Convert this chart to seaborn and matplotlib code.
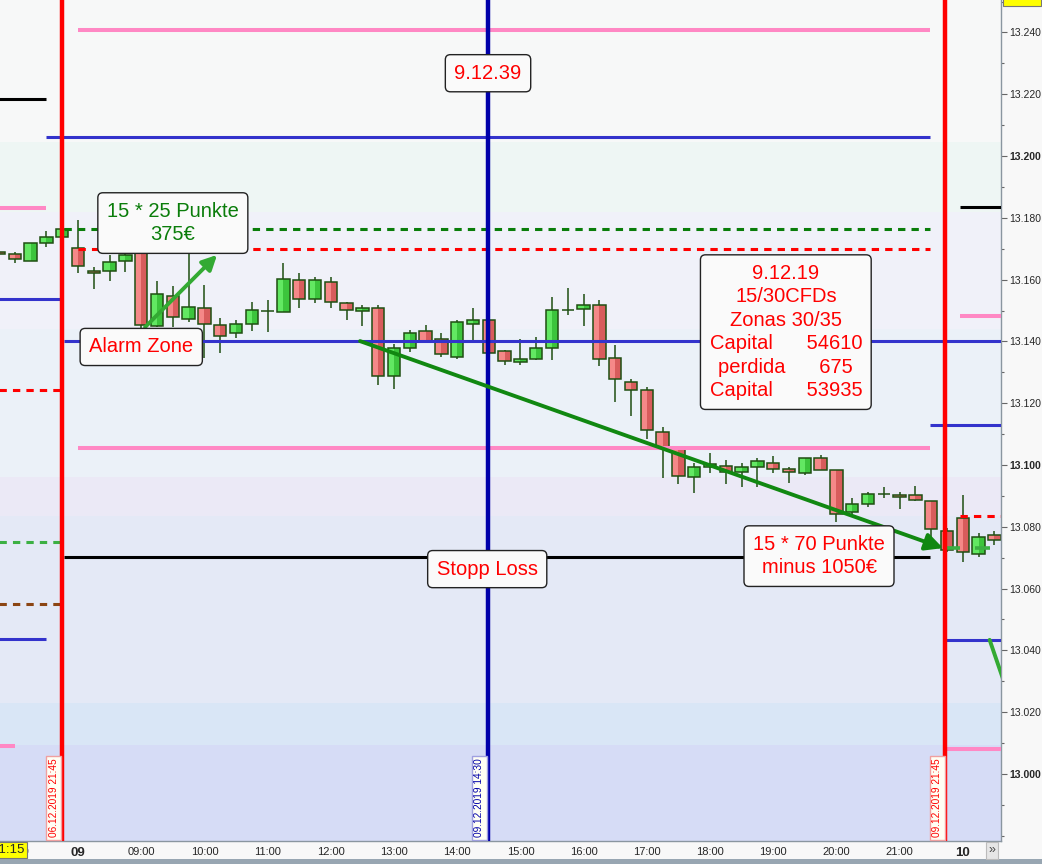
import numpy as np
import pandas as pd
import matplotlib
matplotlib.use("Agg")
import matplotlib.pyplot as plt
from matplotlib.patches import Rectangle
import seaborn as sns

# bar index: 0 = 09.12.2019 08:00, one bar = 15 minutes (index axis, night gap removed)
bar_idx = list(range(-5, 59))
opens = [13168.9, 13168.3, 13166.0, 13171.8, 13173.8,
         13170.2, 13162.8, 13162.8, 13166.0, 13169.9, 13145.0, 13154.7, 13147.2, 13150.8, 13145.3,
         13142.7, 13145.6, 13149.8, 13149.5, 13159.9, 13153.7, 13159.2, 13152.4, 13149.8, 13150.8,
         13128.8, 13137.9, 13143.4, 13140.8, 13134.9, 13145.6, 13146.9, 13136.9, 13133.3, 13134.3,
         13137.9, 13150.2, 13150.5, 13151.8, 13134.6, 13126.9, 13124.3, 13110.7, 13105.8, 13096.1,
         13099.4, 13099.7, 13097.7, 13099.4, 13100.6, 13098.7, 13097.4, 13102.3, 13098.4, 13084.8,
         13087.4, 13090.6, 13090.3, 13090.3, 13088.3, 13078.6, 13082.8, 13071.2, 13077.3]
highs = [13169.3, 13168.9, 13171.8, 13175.7, 13176.4,
         13179.3, 13164.1, 13168.0, 13168.6, 13172.8, 13159.5, 13157.9, 13169.6, 13158.2, 13147.6,
         13146.9, 13152.7, 13153.4, 13165.4, 13162.1, 13160.8, 13160.8, 13152.7, 13151.8, 13151.8,
         13139.2, 13143.7, 13145.3, 13142.7, 13146.9, 13150.8, 13147.2, 13137.2, 13140.8, 13141.4,
         13154.4, 13157.3, 13155.3, 13153.4, 13138.8, 13127.8, 13125.2, 13112.3, 13106.1, 13100.6,
         13103.9, 13101.6, 13100.6, 13102.3, 13102.9, 13099.4, 13102.3, 13103.2, 13098.4, 13089.3,
         13091.3, 13092.9, 13091.3, 13093.2, 13088.3, 13079.5, 13090.3, 13078.0, 13078.6]
lows = [13168.0, 13165.4, 13166.0, 13170.5, 13173.8,
        13162.1, 13157.0, 13159.5, 13162.4, 13143.7, 13144.6, 13144.6, 13146.3, 13134.6, 13136.2,
        13141.1, 13143.4, 13143.0, 13149.5, 13150.8, 13152.4, 13150.8, 13146.9, 13145.0, 13125.9,
        13124.6, 13136.6, 13139.5, 13134.9, 13134.3, 13139.8, 13135.9, 13132.4, 13132.4, 13134.0,
        13134.0, 13148.5, 13145.0, 13132.0, 13120.4, 13115.9, 13108.4, 13095.8, 13093.8, 13090.9,
        13097.4, 13093.8, 13092.9, 13092.9, 13097.4, 13094.2, 13096.8, 13098.4, 13081.6, 13083.8,
        13086.4, 13089.3, 13085.8, 13088.3, 13076.7, 13072.0, 13068.6, 13070.2, 13074.1]
closes = [13168.3, 13166.7, 13171.8, 13173.8, 13176.4,
          13164.4, 13162.1, 13165.7, 13168.0, 13145.3, 13155.3, 13147.9, 13151.1, 13145.6, 13141.7,
          13145.6, 13150.2, 13149.9, 13160.2, 13153.7, 13159.9, 13152.7, 13150.2, 13150.8, 13128.8,
          13137.9, 13142.7, 13139.8, 13135.9, 13146.3, 13146.9, 13136.2, 13133.7, 13134.3, 13137.9,
          13150.2, 13150.1, 13151.8, 13134.3, 13127.8, 13124.3, 13111.3, 13105.5, 13096.4, 13099.4,
          13100.3, 13097.7, 13099.4, 13101.3, 13098.7, 13097.7, 13102.3, 13098.4, 13084.1, 13087.4,
          13090.6, 13090.5, 13089.6, 13088.7, 13079.3, 13072.5, 13071.8, 13076.7, 13075.7]

# x ticks
tick_pos = [-4, 0, 4, 8, 12, 16, 20, 24, 28, 32, 36, 40, 44, 48, 52, 56]
tick_lab = ["21:00", "09", "09:00", "10:00", "11:00", "12:00", "13:00", "14:00", "15:00",
            "16:00", "17:00", "18:00", "19:00", "20:00", "21:00", "10"]

# background zones (price from, price to, colour)
zone_lo = [13204.5, 13181.9, 13144.0, 13096.1, 13083.5, 13023.0, 13009.4, 12970.0]
zone_hi = [13260.0, 13204.5, 13181.9, 13144.0, 13096.1, 13083.5, 13023.0, 13009.4]
zone_col = ["#f7f8f8", "#eef6f4", "#f0f1f9", "#ebf1f8", "#ebe9f6", "#e4e9f6", "#d9e6f6", "#d6dcf6"]

# horizontal levels: price, from bar, to bar, colour, style
lvl_price = [13240.8, 13218.4, 13206.1, 13183.2, 13176.4, 13169.9, 13183.5, 13153.7, 13140.1,
             13124.3, 13148.2, 13112.9, 13105.5, 13083.5, 13075.1, 13070.2, 13055.0, 13043.7,
             13043.4, 13009.1, 13008.1]
lvl_x0 = [0.0, -5.0, -2.0, -5.0, -0.9, 0.0, 55.8, -5.0, -0.9, -5.0, 55.8, 53.9, 0.0, 55.8,
          -5.0, -0.9, -5.0, -5.0, 54.9, -5.0, 54.9]
lvl_x1 = [53.9, -2.0, 53.9, -2.0, 53.9, 53.9, 59.0, -1.1, 59.0, -1.1, 59.0, 59.0, 53.9, 59.0,
          -1.1, 53.9, -1.1, -2.0, 59.0, -4.0, 59.0]
lvl_col = ["#ff88c4", "black", "#3333cc", "#ff88c4", "#0a7d0a", "red", "black", "#3333cc",
           "#3333cc", "red", "#ff88c4", "#3333cc", "#ff88c4", "red", "#3cb043", "black",
           "#8b4513", "#3333cc", "#3333cc", "#ff88c4", "#ff88c4"]
lvl_dash = [0, 0, 0, 0, 1, 1, 0, 0, 0, 1, 0, 0, 0, 1, 1, 0, 1, 0, 0, 0, 0]

df = pd.DataFrame({"bar": bar_idx, "open": opens, "high": highs, "low": lows, "close": closes})
df["up"] = df["close"] >= df["open"]
df["lo"] = df[["open", "close"]].min(axis=1)
df["h"] = (df["close"] - df["open"]).abs().clip(lower=0.15)

sns.set_style("white")
plt.rcParams["font.family"] = ["Liberation Sans", "DejaVu Sans"]

fig = plt.figure(figsize=(10.42, 8.64), dpi=100, facecolor="#f8f8f8")
ax = fig.add_axes([0, 23 / 864, 1001 / 1042, 841 / 864])
ax.set_xlim(-4.94, 58.42)
ax.set_ylim(12978.3, 13250.5)

for lo, hi, c in zip(zone_lo, zone_hi, zone_col):
    ax.axhspan(lo, hi, color=c, lw=0, zorder=0)

# candles
edge = "#1f4f12"
w = 0.78
ax.vlines(df["bar"], df["low"], df["high"], color=edge, lw=1.1, zorder=2)
for up, light, dark in [(True, "#62e862", "#3cc43c"), (False, "#f58888", "#d85c5c")]:
    d = df[df["up"] == up]
    ax.bar(d["bar"] - w / 4, d["h"], width=w / 2, bottom=d["lo"], color=light, lw=0, zorder=2.1)
    ax.bar(d["bar"] + w / 4, d["h"], width=w / 2, bottom=d["lo"], color=dark, lw=0, zorder=2.1)
ax.bar(df["bar"], df["h"], width=w, bottom=df["lo"], facecolor="none", edgecolor=edge,
       lw=1.1, zorder=2.2)

# levels
for p, x0, x1, c, dsh in zip(lvl_price, lvl_x0, lvl_x1, lvl_col, lvl_dash):
    lw = 2.9 if c == "#ff88c4" else 2.2
    ls = (0, (2.4, 2.0)) if dsh else "-"
    ax.plot([x0, x1], [p, p], color=c, lw=lw, ls=ls, solid_capstyle="butt", zorder=3)

# short trailing marks
ax.plot([55.0, 55.8], [13073.1, 13073.1], color="#3cb043", lw=2.6, zorder=3, solid_capstyle="butt")
ax.plot([56.8, 57.7], [13073.1, 13073.1], color="#3cb043", lw=2.6, zorder=3, solid_capstyle="butt")

# vertical markers
ax.axvline(-1.0, color="red", lw=3.2, zorder=4)
ax.axvline(25.95, color="#0000aa", lw=3.2, zorder=4)
ax.axvline(54.9, color="red", lw=3.2, zorder=4)

# arrows
ax.annotate("", xy=(8.8, 13168.0), xytext=(4.24, 13144.6),
            arrowprops=dict(arrowstyle="-|>", color="#33aa33", lw=2.8, mutation_scale=22,
                            shrinkA=0, shrinkB=0), zorder=5)
ax.annotate("", xy=(54.75, 13073.1), xytext=(17.85, 13140.1),
            arrowprops=dict(arrowstyle="-|>", color="#118811", lw=2.8, mutation_scale=26,
                            shrinkA=0, shrinkB=0), zorder=5)
ax.plot([57.7, 59.0], [13043.4, 13024.0], color="#33aa33", lw=2.8, zorder=5)

# text boxes
box = dict(boxstyle="round,pad=0.45,rounding_size=0.25", facecolor="#fafafa", edgecolor="#222222", lw=1)
tk = dict(ha="center", va="center", fontsize=14.5, zorder=7, bbox=box, linespacing=1.3)
ax.text(25.95, 13226.8, "9.12.39", color="red", **tk)
ax.text(6.0, 13178.3, "15 * 25 Punkte\n375€", color="#0a7d0a", **tk)
ax.text(4.0, 13138.2, "Alarm Zone", color="red", **tk)
ax.text(44.8, 13143.0,
        "9.12.19\n15/30CFDs\nZonas 30/35\nCapital      54610\nperdida      675\nCapital      53935",
        color="red", **tk)
ax.text(46.9, 13070.5, "15 * 70 Punkte\nminus 1050€", color="red", **tk)
ax.text(25.9, 13066.3, "Stopp Loss", color="red", **tk)

# vertical date labels at the markers
for xb, lab, c, ec in [(-1.55, "06.12.2019 21:45", "red", "#f0a0a0"),
                       (25.4, "09.12.2019 14:30", "#0000aa", "#a0a0e0"),
                       (54.4, "09.12.2019 21:45", "red", "#f0a0a0")]:
    ax.text(xb, 12979.5, lab, rotation=90, ha="center", va="bottom", fontsize=7.3, color=c,
            zorder=6, bbox=dict(boxstyle="square,pad=0.25", facecolor="#fffff4", edgecolor=ec, lw=1))

# axes styling
ax.yaxis.tick_right()
yt = np.arange(13000, 13241, 20)
ax.set_yticks(yt)
ax.set_yticklabels([f"{v / 1000:.3f}" for v in yt], fontsize=7.5)
for t, v in zip(ax.get_yticklabels(), yt):
    if v % 100 == 0:
        t.set_fontweight("bold")
ax.set_yticks(np.arange(12980, 13251, 10), minor=True)
ax.tick_params(axis="y", which="major", direction="out", length=4, width=0.8, color="#666666", pad=2)
ax.tick_params(axis="y", which="minor", direction="out", length=2.5, width=0.8, color="#666666")
ax.set_xticks(tick_pos)
ax.set_xticklabels(tick_lab, fontsize=8)
for t, lab in zip(ax.get_xticklabels(), tick_lab):
    if len(lab) == 2:
        t.set_fontweight("bold")
        t.set_fontsize(9.5)
ax.tick_params(axis="x", direction="out", length=3, width=0.8, color="#666666", pad=1)
for s in ["top", "left"]:
    ax.spines[s].set_visible(False)
for s in ["right", "bottom"]:
    ax.spines[s].set_color("#8a96a0")
    ax.spines[s].set_linewidth(1)

# frame bits outside the plot
fig.patches.append(Rectangle((0, 0), 1, 5 / 864, transform=fig.transFigure,
                             facecolor="#98a6b2", edgecolor="none"))
fig.patches.append(Rectangle((1003 / 1042, 858 / 864), 38 / 1042, 8 / 864, transform=fig.transFigure,
                             facecolor="#ffff00", edgecolor="#777777", lw=0.8))
fig.text(25 / 1042, 14 / 864, "21:15", ha="right", va="center", fontsize=9.5, zorder=10,
         bbox=dict(boxstyle="square,pad=0.15", facecolor="#ffff00", edgecolor="#777777", lw=0.8))
fig.text(992 / 1042, 14 / 864, "»", ha="center", va="center", fontsize=9, color="#444444",
         bbox=dict(boxstyle="square,pad=0.2", facecolor="#e6e6e6", edgecolor="#bbbbbb", lw=0.8))

fig.savefig("out.png", dpi=100, facecolor=fig.get_facecolor())
